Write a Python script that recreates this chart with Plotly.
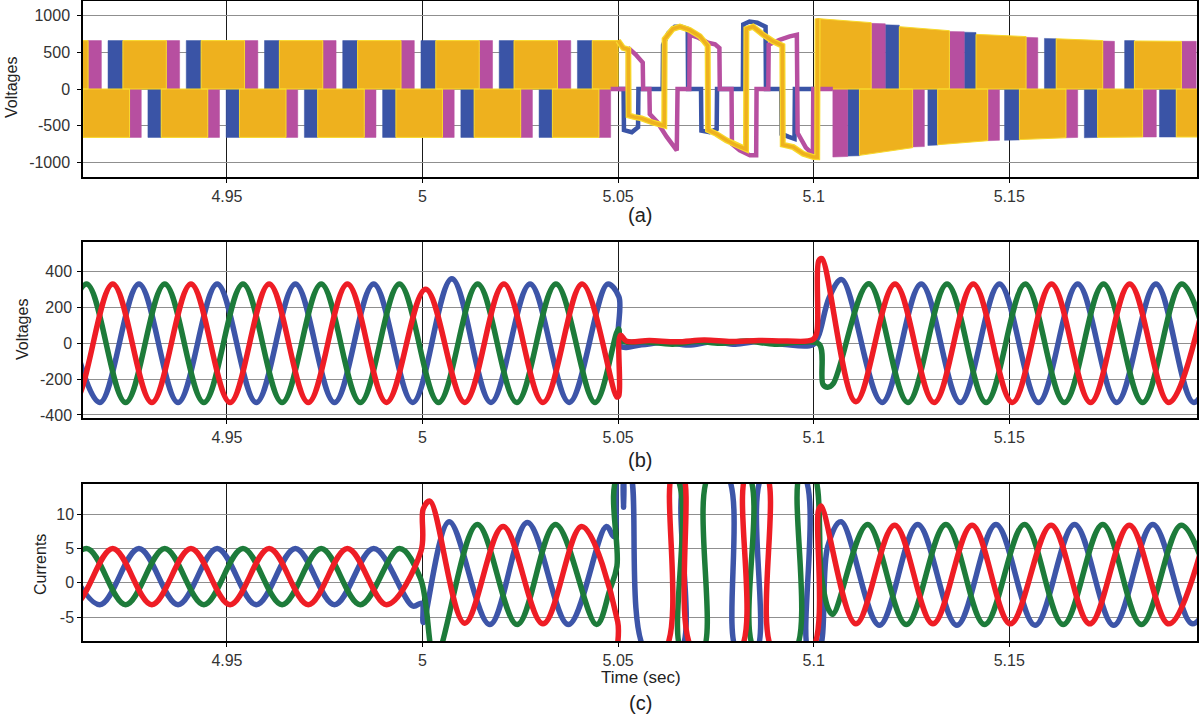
import plotly.graph_objects as go

# ---------------- axis / tick data ----------------
X_RANGE = [4.9132, 5.198]
time_ticks = [4.95, 5.0, 5.05, 5.1, 5.15]
time_tick_text = ["4.95", "5", "5.05", "5.1", "5.15"]
va_ticks = [1000, 500, 0, -500, -1000]
va_tick_text = ["1000", "500", "0", "-500", "-1000"]
vb_ticks = [400, 200, 0, -200, -400]
vb_tick_text = ["400", "200", "0", "-200", "-400"]
ic_ticks = [10, 5, 0, -5]
ic_tick_text = ["10", "5", "0", "-5"]

# ---------------- panel (a): inverter line voltages ----------------
# PWM pulse blocks: [t_start, t_end, level_start, level_end]
va_blue_pos = [
    [4.9196, 4.9234, 660, 660], [4.9396, 4.9434, 660, 660], [4.9596, 4.9634, 660, 660],
    [4.9796, 4.9834, 660, 660], [4.9996, 5.0034, 660, 660], [5.0196, 5.0234, 660, 660],
    [5.0396, 5.0434, 660, 660],
    [5.1183, 5.1219, 875, 870], [5.1385, 5.1415, 775, 770], [5.1590, 5.1620, 690, 685],
    [5.1795, 5.1820, 660, 660]]
va_blue_neg = [
    [4.9298, 4.9332, -660, -660], [4.9498, 4.9532, -660, -660], [4.9698, 4.9732, -660, -660],
    [4.9898, 4.9932, -660, -660], [5.0098, 5.0132, -660, -660], [5.0298, 5.0332, -660, -660],
    [5.1087, 5.1117, -915, -910], [5.1292, 5.1317, -770, -765], [5.1488, 5.1526, -700, -695],
    [5.1692, 5.1726, -665, -660], [5.1884, 5.1927, -655, -655]]
va_magenta_pos = [
    [4.9145, 4.9179, 660, 660], [4.9345, 4.9379, 660, 660], [4.9545, 4.9579, 660, 660],
    [4.9745, 4.9779, 660, 660], [4.9945, 4.9979, 660, 660], [5.0145, 5.0179, 660, 660],
    [5.0345, 5.0379, 660, 660],
    [5.1147, 5.1183, 895, 890], [5.1347, 5.1385, 785, 780], [5.1543, 5.1573, 705, 700],
    [5.1739, 5.1769, 655, 650], [5.1940, 5.1978, 650, 650]]
va_magenta_neg = [
    [4.9251, 4.9281, -660, -660], [4.9451, 4.9481, -660, -660], [4.9651, 4.9681, -660, -660],
    [4.9851, 4.9881, -660, -660], [5.0051, 5.0081, -660, -660], [5.0251, 5.0281, -660, -660],
    [5.0451, 5.0481, -660, -660],
    [5.1049, 5.1087, -928, -920], [5.1253, 5.1283, -790, -785], [5.1445, 5.1475, -705, -700],
    [5.1645, 5.1675, -665, -660], [5.1841, 5.1876, -655, -655]]
va_yellow_pos = [
    [4.9034, 4.9145, 660, 660], [4.9234, 4.9345, 660, 660], [4.9434, 4.9545, 660, 660],
    [4.9634, 4.9745, 660, 660], [4.9834, 4.9945, 660, 660], [5.0034, 5.0145, 660, 660],
    [5.0234, 5.0345, 660, 660], [5.0434, 5.0500, 660, 660],
    [5.1010, 5.1147, 960, 905], [5.1219, 5.1347, 850, 795], [5.1415, 5.1543, 745, 715],
    [5.1620, 5.1739, 685, 660], [5.1820, 5.1940, 655, 650]]
va_yellow_neg = [
    [4.9132, 4.9251, -660, -660], [4.9332, 4.9451, -660, -660], [4.9532, 4.9651, -660, -660],
    [4.9732, 4.9851, -660, -660], [4.9932, 5.0051, -660, -660], [5.0132, 5.0251, -660, -660],
    [5.0332, 5.0451, -660, -660],
    [5.1117, 5.1253, -905, -800], [5.1317, 5.1445, -760, -705], [5.1526, 5.1645, -690, -665],
    [5.1726, 5.1841, -660, -655], [5.1927, 5.2040, -655, -655]]

# fault interval (5.05 - 5.1) line voltages
va_fault_blue_t = [5.0500, 5.0514, 5.0515, 5.0535, 5.0551, 5.0552, 5.0614, 5.0615, 5.0628, 5.0645,
                   5.0662, 5.0678, 5.0679, 5.0712, 5.0713, 5.0734, 5.0752, 5.0753, 5.0819, 5.0820,
                   5.0836, 5.0856, 5.0877, 5.0878, 5.0917, 5.0918, 5.0935, 5.0951, 5.0952, 5.1010]
va_fault_blue_v = [0, 0, -560, -590, -520, 0, 0, 600, 760, 850,
                   850, 820, 0, 0, -567, -590, -545, 0, 0, 880,
                   920, 905, 850, 0, 0, -612, -650, -680, 0, 0]
va_fault_magenta_t = [5.0481, 5.0525, 5.0526, 5.0545, 5.0563, 5.0564, 5.0580, 5.0581, 5.0600, 5.0624,
                      5.0650, 5.0652, 5.0682, 5.0683, 5.0705, 5.0730, 5.0748, 5.0759, 5.0760, 5.0790,
                      5.0791, 5.0811, 5.0837, 5.0853, 5.0854, 5.0884, 5.0885, 5.0913, 5.0939, 5.0957,
                      5.0959, 5.0980, 5.0998, 5.0999, 5.1049]
va_fault_magenta_v = [0, 0, 560, 470, 360, 0, 0, -342, -450, -650,
                      -838, 0, 0, 740, 700, 630, 610, 560, 0, 0,
                      -748, -838, -905, -905, 0, 0, 603, 671, 717, 739,
                      -600, -800, -890, 0, 0]
va_fault_yellow_t = [5.0500, 5.0513, 5.0526, 5.0527, 5.0540, 5.0560, 5.0590, 5.0618, 5.0619, 5.0640,
                     5.0658, 5.0683, 5.0709, 5.0729, 5.0730, 5.0751, 5.0777, 5.0803, 5.0827, 5.0828,
                     5.0845, 5.0871, 5.0896, 5.0920, 5.0921, 5.0948, 5.0973, 5.1000, 5.1009, 5.1010]
va_fault_yellow_v = [660, 560, 540, -360, -380, -400, -460, -500, 680, 820,
                     851, 806, 720, 590, -560, -612, -700, -770, -820, 820,
                     851, 740, 650, 590, -760, -793, -883, -928, -930, 960]

# ---------------- panel (b): load voltages (extrema and transients) ----------------
vb_blue_t = [4.9075, 4.9175, 4.9275, 4.9375, 4.9475, 4.9575, 4.9675, 4.9775, 4.9875, 4.9975,
             5.0075, 5.0175, 5.0275, 5.0375, 5.0473, 5.0502, 5.0506, 5.0560, 5.0620, 5.0680,
             5.0740, 5.0800, 5.0860, 5.0920, 5.0996, 5.1012, 5.1040, 5.1072, 5.1175, 5.1275,
             5.1375, 5.1475, 5.1575, 5.1675, 5.1775, 5.1875, 5.1972, 5.2075]
vb_blue_v = [330, -330, 330, -330, 330, -330, 330, -330, 330, -330,
             360, -330, 330, -330, 330, 260, -15, -8, 5, -10,
             8, -5, 10, -5, -10, 40, 257, 355, -330, 330,
             -330, 330, -330, 330, -330, 330, -330, 330]
vb_green_t = [4.9041, 4.9141, 4.9241, 4.9341, 4.9441, 4.9541, 4.9641, 4.9741, 4.9841, 4.9941,
              5.0041, 5.0141, 5.0241, 5.0341, 5.0441, 5.0501, 5.0508, 5.0570, 5.0640, 5.0700,
              5.0760, 5.0830, 5.0900, 5.0960, 5.1014, 5.1024, 5.1036, 5.1050, 5.1141, 5.1241,
              5.1341, 5.1441, 5.1541, 5.1641, 5.1741, 5.1841, 5.1941, 5.2041]
vb_green_v = [-330, 330, -330, 330, -330, 330, -330, 330, -330, 330,
              -330, 330, -330, 330, -330, 80, 15, 8, -5, 10,
              0, 12, -5, 5, -5, -230, -245, -225, 332, -330,
              330, -330, 330, -330, 330, -330, 330, -330]
vb_red_t = [4.9008, 4.9108, 4.9208, 4.9308, 4.9408, 4.9508, 4.9608, 4.9708, 4.9808, 4.9908,
            5.0008, 5.0108, 5.0208, 5.0308, 5.0408, 5.0497, 5.0502, 5.0506, 5.0522, 5.0580,
            5.0650, 5.0720, 5.0790, 5.0860, 5.0930, 5.0998, 5.1008, 5.1013, 5.1021, 5.1108,
            5.1208, 5.1308, 5.1408, 5.1508, 5.1608, 5.1708, 5.1808, 5.1908, 5.2008]
vb_red_v = [330, -330, 330, -330, 330, -330, 330, -330, 330, -330,
            302, -330, 330, -330, 330, -300, -290, 44, 11, 15,
            8, 18, 10, 15, 12, 20, 60, 460, 472, -326,
            330, -330, 330, -330, 330, -330, 330, -330, 330]

# ---------------- panel (c): currents (extrema and transients) ----------------
ic_blue_t = [4.9075, 4.9175, 4.9275, 4.9375, 4.9475, 4.9575, 4.9675, 4.9775, 4.9875, 4.9975,
             4.9998, 5.0002, 5.0068, 5.0172, 5.0268, 5.0373, 5.0470, 5.0490, 5.0500, 5.0511,
             5.0514, 5.0517, 5.0530, 5.0572, 5.0658, 5.0678, 5.0775, 5.0805, 5.0852, 5.0873,
             5.0971, 5.0988, 5.1012, 5.1036, 5.1070, 5.1168, 5.1266, 5.1366, 5.1466, 5.1566,
             5.1667, 5.1767, 5.1867, 5.1969, 5.2069]
ic_blue_v = [5.0, -3.2, 5.0, -3.2, 5.0, -3.2, 5.0, -3.2, 5.0, -3.4,
             -3.0, -5.8, 8.9, -6.1, 8.8, -6.1, 8.2, 6.7, 16, 16,
             11.0, 16, 16, -10, -10, 16, 16, -10, -10, 16,
             16, -10, -10, 5.3, 8.9, -6.2, 8.5, -6.2, 8.5, -6.2,
             8.5, -6.2, 8.5, -6.0, 8.5]
ic_green_t = [4.9041, 4.9141, 4.9241, 4.9341, 4.9441, 4.9541, 4.9641, 4.9741, 4.9841, 4.9941,
              4.9995, 5.0032, 5.0140, 5.0242, 5.0340, 5.0445, 5.0479, 5.0497, 5.0504, 5.0643,
              5.0664, 5.0715, 5.0736, 5.0830, 5.0852, 5.0950, 5.0967, 5.0998, 5.1020, 5.1038,
              5.1049, 5.1138, 5.1237, 5.1338, 5.1437, 5.1539, 5.1638, 5.1739, 5.1838, 5.1940,
              5.2040]
ic_green_v = [-3.2, 5.0, -3.2, 5.0, -3.2, 5.0, -3.2, 5.0, -3.2, 5.0,
              0.6, -11, 8.5, -6.1, 8.5, -6.1, -1.0, 2.4, 16, 16,
              -10, -10, 16, 16, -10, -10, 16, 16, 0.8, -3.9,
              -4.6, 8.5, -6.1, 8.5, -6.1, 8.5, -6.1, 8.5, -6.1, 8.4,
              -6.1]
ic_red_t = [4.9008, 4.9108, 4.9208, 4.9308, 4.9408, 4.9508, 4.9608, 4.9708, 4.9808, 4.9908,
            4.9996, 5.0002, 5.0019, 5.0108, 5.0206, 5.0308, 5.0407, 5.0499, 5.0504, 5.0618,
            5.0640, 5.0664, 5.0694, 5.0809, 5.0830, 5.0877, 5.0898, 5.0993, 5.1012, 5.1019,
            5.1108, 5.1207, 5.1305, 5.1405, 5.1503, 5.1607, 5.1706, 5.1807, 5.1908, 5.2008]
ic_red_v = [5.0, -3.2, 5.0, -3.2, 5.0, -3.2, 5.0, -3.2, 5.0, -3.2,
            4.6, 10.8, 11.9, -5.9, 8.2, -6.0, 8.2, -5.7, -12, -10,
            16, 16, -10, -10, 16, 16, -10, -10, 10.5, 11.2,
            -6.0, 8.4, -6.0, 8.4, -6.0, 8.4, -6.0, 8.4, -6.0, 8.4]

# ---------------- styling ----------------
C_BLUE_A, C_MAG_A, C_YEL_A, C_YEL_EDGE = "#3A54A6", "#B74FA0", "#EEB11E", "#F8D92C"
C_BLUE, C_GREEN, C_RED = "#3D55A8", "#1D7B3A", "#EE1D25"
FONT = "Liberation Sans, Arial, sans-serif"


def block_polygons(blocks):
    xs, ys = [], []
    for t0, t1, v0, v1 in blocks:
        xs += [t0, t0, t1, t1, t0, None]
        ys += [0, v0, v1, 0, 0, None]
    return xs, ys


fig = go.Figure()

# panel (a)
for blocks, col, edge in [(va_blue_pos + va_blue_neg, C_BLUE_A, None),
                          (va_magenta_pos + va_magenta_neg, C_MAG_A, None),
                          (va_yellow_pos + va_yellow_neg, C_YEL_A, C_YEL_EDGE)]:
    xs, ys = block_polygons(blocks)
    fig.add_trace(go.Scatter(x=xs, y=ys, mode="lines", fill="toself", fillcolor=col,
                             line=dict(color=edge or col, width=1 if edge else 0.5),
                             xaxis="x", yaxis="y", hoverinfo="skip", showlegend=False))

fig.add_trace(go.Scatter(x=va_fault_blue_t, y=va_fault_blue_v, mode="lines",
                         line=dict(color=C_BLUE_A, width=4.5), xaxis="x", yaxis="y", showlegend=False))
fig.add_trace(go.Scatter(x=va_fault_magenta_t, y=va_fault_magenta_v, mode="lines",
                         line=dict(color=C_MAG_A, width=4.5), xaxis="x", yaxis="y", showlegend=False))
fig.add_trace(go.Scatter(x=va_fault_yellow_t, y=va_fault_yellow_v, mode="lines",
                         line=dict(color=C_YEL_EDGE, width=6), xaxis="x", yaxis="y", showlegend=False))
fig.add_trace(go.Scatter(x=va_fault_yellow_t, y=va_fault_yellow_v, mode="lines",
                         line=dict(color=C_YEL_A, width=3.5), xaxis="x", yaxis="y", showlegend=False))

# panel (b)
for t, v, col in [(vb_blue_t, vb_blue_v, C_BLUE), (vb_green_t, vb_green_v, C_GREEN),
                  (vb_red_t, vb_red_v, C_RED)]:
    fig.add_trace(go.Scatter(x=t, y=v, mode="lines", line=dict(color=col, width=5.5, shape="spline", smoothing=1),
                             xaxis="x2", yaxis="y2", showlegend=False))

# panel (c)
for t, v, col in [(ic_blue_t, ic_blue_v, C_BLUE), (ic_green_t, ic_green_v, C_GREEN),
                  (ic_red_t, ic_red_v, C_RED)]:
    fig.add_trace(go.Scatter(x=t, y=v, mode="lines", line=dict(color=col, width=5.5, shape="spline", smoothing=1),
                             xaxis="x3", yaxis="y3", showlegend=False))

W, H = 1200, 721
XDOM = [83 / W, 1197 / W]


def ydom(top_px, bot_px):
    return [(H - bot_px) / H, (H - top_px) / H]


xcommon = dict(range=X_RANGE, domain=XDOM, tickvals=time_ticks, ticktext=time_tick_text,
               showgrid=True, gridcolor="#1a1a1a", gridwidth=1.2, zeroline=False,
               showline=True, linecolor="black", linewidth=1.5, mirror=True,
               ticks="outside", ticklen=4, tickcolor="black", automargin=False,
               tickfont=dict(family=FONT, size=16, color="#333333"))
ycommon = dict(showgrid=True, gridcolor="#8f8f8f", gridwidth=1.2, zeroline=False,
               showline=True, linecolor="black", linewidth=1.5, mirror=True,
               ticks="outside", ticklen=4, tickcolor="black", automargin=False,
               tickfont=dict(family=FONT, size=16, color="#333333"))

fig.update_layout(
    width=W, height=H, margin=dict(l=0, r=0, t=0, b=0, autoexpand=False),
    paper_bgcolor="white", plot_bgcolor="white", showlegend=False,
    xaxis=dict(xcommon, anchor="y"),
    xaxis2=dict(xcommon, anchor="y2"),
    xaxis3=dict(xcommon, anchor="y3"),
    yaxis=dict(ycommon, domain=ydom(1, 177), range=[-1200, 1200], tickvals=va_ticks,
               ticktext=va_tick_text, anchor="x", ticklabelstandoff=4),
    yaxis2=dict(ycommon, domain=ydom(242, 418), range=[-417, 565], tickvals=vb_ticks,
                ticktext=vb_tick_text, anchor="x2", ticklabelstandoff=2),
    yaxis3=dict(ycommon, domain=ydom(484, 641), range=[-8.5, 14.4], tickvals=ic_ticks,
                ticktext=ic_tick_text, anchor="x3", ticklabelstandoff=0),
)

ann = [
    ("(a)", 640, 215, 0, 20), ("(b)", 640, 460, 0, 20), ("(c)", 640, 703, 0, 20),
    ("Time (sec)", 641, 677, 0, 17),
    ("Voltages", 12, 88, -90, 16), ("Voltages", 22, 330, -90, 16), ("Currents", 40, 565, -90, 16),
]
for text, x, y, ang, size in ann:
    fig.add_annotation(text=text, x=x / W, y=(H - y) / H, xref="paper", yref="paper",
                       showarrow=False, textangle=ang, xanchor="center", yanchor="middle",
                       font=dict(family=FONT, size=size, color="#222222"))

fig.write_html("out.html", config={"displayModeBar": False},
               post_script="document.body.style.margin='0';document.body.style.overflow='hidden';")
